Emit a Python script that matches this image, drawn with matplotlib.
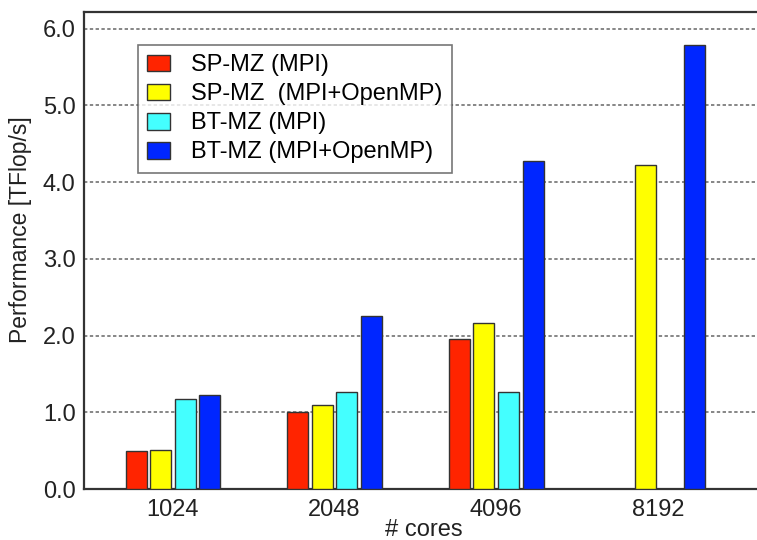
import numpy as np
import matplotlib
matplotlib.use("Agg")
import matplotlib.pyplot as plt

plt.rcParams["font.family"] = ["Liberation Sans", "DejaVu Sans"]

# data
cores = ["1024", "2048", "4096", "8192"]
sp_mpi = [0.50, 1.00, 1.96, 0.0]
sp_hybrid = [0.515, 1.09, 2.16, 4.23]
bt_mpi = [1.18, 1.26, 1.26, 0.0]
bt_hybrid = [1.23, 2.26, 4.27, 5.79]

labels = ["SP-MZ (MPI)", "SP-MZ  (MPI+OpenMP)", "BT-MZ (MPI)", "BT-MZ (MPI+OpenMP)"]
colors = ["#ff2400", "#ffff00", "#44ffff", "#0026ff"]
series = [sp_mpi, sp_hybrid, bt_mpi, bt_hybrid]

fig = plt.figure(figsize=(7.57, 5.40), dpi=100)
ax = fig.add_axes([0.111, 0.0944, 0.898, 0.8836])

x = np.arange(len(cores))
pitch = 0.152
width = 0.13
for i, (vals, lab, col) in enumerate(zip(series, labels, colors)):
    ax.bar(x + (i - 1.5) * pitch, vals, width, color=col, edgecolor="#333333",
           linewidth=1.0, label=lab, zorder=3)

ax.set_xlim(-0.55, 3.655)
ax.set_ylim(0, 6.22)
ax.set_xticks(x)
ax.set_xticklabels(cores)
ax.set_yticks(np.arange(0, 7, 1.0))
ax.set_yticklabels([f"{v:.1f}" for v in np.arange(0, 7, 1.0)])
ax.tick_params(axis="both", length=0, labelsize=17, colors="#222222")
ax.tick_params(axis="x", pad=7)
ax.tick_params(axis="y", pad=6)

ax.yaxis.grid(True, linestyle=(0, (2.2, 1.6)), color="#666666", linewidth=1.1, zorder=1)
ax.set_axisbelow(True)

for side in ["left", "bottom", "top"]:
    ax.spines[side].set_color("#333333")
    ax.spines[side].set_linewidth(1.6)
ax.spines["right"].set_visible(False)

ax.set_xlabel("# cores", fontsize=17, color="#222222", labelpad=-1.5)
ax.set_ylabel("Performance [TFlop/s]", fontsize=16.5, color="#222222")
ax.yaxis.set_label_coords(-0.076, 0.543)

leg = ax.legend(loc="upper left", bbox_to_anchor=(0.079, 0.931), borderaxespad=0,
                fontsize=17, fancybox=False, frameon=True, handlelength=0.95,
                handleheight=0.72, handletextpad=0.9, labelspacing=0.3,
                borderpad=0.4)
leg.get_frame().set_edgecolor("#555555")
leg.get_frame().set_linewidth(1.2)

fig.savefig("out.png", dpi=100)
